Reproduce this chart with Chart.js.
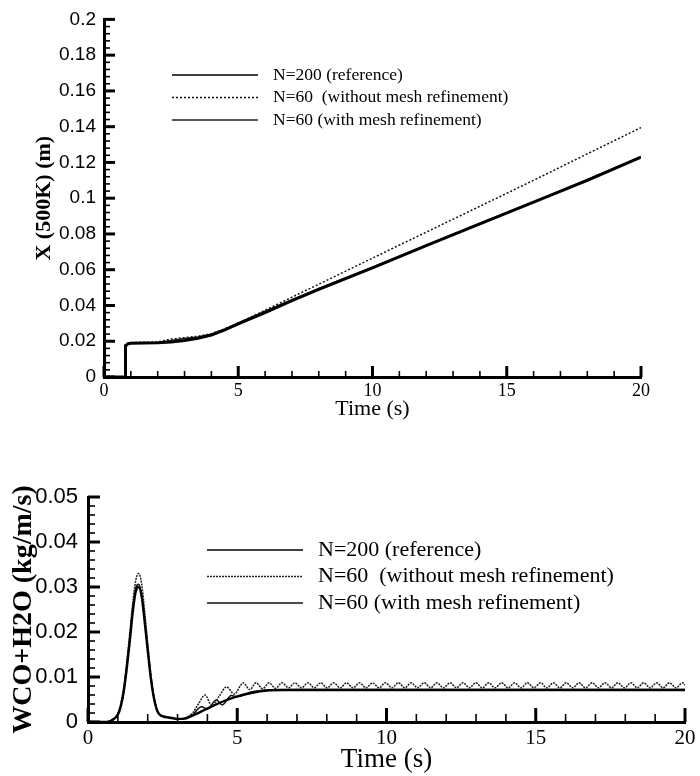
<!DOCTYPE html>
<html>
<head>
<meta charset="utf-8">
<script src="https://cdn.jsdelivr.net/npm/chart.js@4.4.1/dist/chart.umd.min.js"></script>
<style>
  html, body { margin: 0; padding: 0; background: #fff; }
  #page { position: relative; width: 700px; height: 776px; background: #fff; }
  #posChart { position: absolute; left: 0; top: 0; }
  #rateChart { position: absolute; left: 0; top: 466px; }
</style>
</head>
<body>
<div id="page">
  <canvas id="posChart" width="700" height="430"></canvas>
  <canvas id="rateChart" width="700" height="310"></canvas>
</div>
<script>
// ── Data: X(500K) front position vs time ────────────────────────────────────
const seriesLabels = ['N=200 (reference)', 'N=60  (without mesh refinement)', 'N=60 (with mesh refinement)'];

const posTime   = [0, 0.8, 0.8, 0.9, 1.0, 1.5, 2.0, 2.5, 3.0, 3.5, 4.0, 4.5, 5.0, 6.0, 7.0, 8.0, 9.0, 10.0, 12.0, 14.0, 16.0, 18.0, 20.0];
const posRef    = [0, 0, 0.0175, 0.0186, 0.0189, 0.019, 0.0191, 0.0196, 0.0204, 0.0217, 0.0235, 0.0264, 0.0297, 0.036, 0.0427, 0.049, 0.055, 0.061, 0.0735, 0.0857, 0.0978, 0.110, 0.123];
const posCoarse = [0, 0, 0.0182, 0.019, 0.0193, 0.0194, 0.0196, 0.0212, 0.022, 0.0228, 0.0242, 0.027, 0.0302, 0.0373, 0.0446, 0.0519, 0.0592, 0.0665, 0.081, 0.0955, 0.110, 0.1248, 0.1395];
const posFine   = [0, 0, 0.0178, 0.0187, 0.019, 0.019, 0.0192, 0.0205, 0.0215, 0.0224, 0.024, 0.0268, 0.0302, 0.0368, 0.0433, 0.0495, 0.0555, 0.0615, 0.0738, 0.086, 0.098, 0.1105, 0.1233];

// ── Data: WCO+H2O vs time ────────────────────────────────────────────────────
const rateRefTime = [0, 0.6, 0.8, 1.0, 1.1, 1.2, 1.3, 1.4, 1.5, 1.6, 1.7, 1.8, 1.9, 2.0, 2.1, 2.2, 2.3, 2.4, 2.6, 2.8, 3.0, 3.2, 3.5, 4.0, 4.5, 5.0, 5.5, 6.0, 6.5, 7.0, 10.0, 15.0, 20.0];
const rateRef     = [0, 0, 0.0004, 0.0016, 0.0035, 0.0069, 0.0120, 0.0180, 0.0245, 0.0290, 0.0300, 0.0278, 0.0222, 0.0160, 0.0100, 0.0056, 0.0028, 0.0016, 0.0011, 0.0009, 0.0007, 0.0007, 0.0014, 0.0030, 0.0045, 0.0057, 0.0065, 0.0070, 0.0071, 0.0071, 0.0071, 0.0071, 0.0071];

const rateFineTime = [0, 0.6, 0.8, 1.0, 1.1, 1.2, 1.3, 1.4, 1.5, 1.6, 1.7, 1.8, 1.9, 2.0, 2.1, 2.2, 2.3, 2.4, 2.6, 2.8, 3.0, 3.2, 3.5, 3.8, 4.0, 4.3, 4.5, 4.8, 5.0, 5.5, 6.0, 7.0, 10.0, 15.0, 20.0];
const rateFine     = [0, 0, 0.0004, 0.0017, 0.0037, 0.0072, 0.0125, 0.0186, 0.0252, 0.0298, 0.0306, 0.0283, 0.0226, 0.0162, 0.0101, 0.0057, 0.0029, 0.0017, 0.0012, 0.0009, 0.0007, 0.0008, 0.0016, 0.0034, 0.0029, 0.0049, 0.0038, 0.0059, 0.0056, 0.0067, 0.0071, 0.0072, 0.0072, 0.0072, 0.0072];

const rateCoarseTime = [0, 0.6, 0.8, 1.0, 1.1, 1.2, 1.3, 1.4, 1.5, 1.6, 1.7, 1.8, 1.9, 2.0, 2.1, 2.2, 2.3, 2.4, 2.6, 2.8, 3.0, 3.2, 3.5, 3.7, 3.92, 4.15, 4.4, 4.64, 4.9,
  5.20, 5.42, 5.63, 5.85, 6.07, 6.28, 6.50, 6.72, 6.93, 7.15, 7.37, 7.58, 7.80, 8.01, 8.23, 8.45, 8.66, 8.88, 9.10, 9.31,
  9.53, 9.75, 9.96, 10.18, 10.40, 10.61, 10.83, 11.04, 11.26, 11.48, 11.69, 11.91, 12.13, 12.34, 12.56, 12.78, 12.99, 13.21,
  13.42, 13.64, 13.86, 14.07, 14.29, 14.51, 14.72, 14.94, 15.16, 15.37, 15.59, 15.81, 16.02, 16.24, 16.45, 16.67, 16.89,
  17.10, 17.32, 17.54, 17.75, 17.97, 18.19, 18.40, 18.62, 18.83, 19.05, 19.27, 19.48, 19.70, 19.92, 20.00];
const rateCoarse = [0, 0, 0.0005, 0.0020, 0.0042, 0.0078, 0.0135, 0.0198, 0.0265, 0.0315, 0.0330, 0.0306, 0.0245, 0.0175, 0.0110, 0.0060, 0.0030, 0.0017, 0.0012, 0.0010, 0.0007, 0.0008, 0.0020, 0.0040, 0.0060, 0.0036, 0.0058, 0.0078, 0.0062,
  0.0087, 0.0072, 0.0087, 0.0074, 0.0087, 0.0075, 0.0087, 0.0076, 0.0087, 0.0076, 0.0087, 0.0076, 0.0087, 0.0076, 0.0087, 0.0076, 0.0087, 0.0076, 0.0087, 0.0076,
  0.0087, 0.0076, 0.0087, 0.0076, 0.0087, 0.0076, 0.0087, 0.0076, 0.0087, 0.0076, 0.0087, 0.0076, 0.0087, 0.0076, 0.0087, 0.0076, 0.0087, 0.0076,
  0.0087, 0.0076, 0.0087, 0.0076, 0.0087, 0.0076, 0.0087, 0.0076, 0.0087, 0.0076, 0.0087, 0.0076, 0.0087, 0.0076, 0.0087, 0.0076, 0.0087,
  0.0076, 0.0087, 0.0076, 0.0087, 0.0076, 0.0087, 0.0076, 0.0087, 0.0076, 0.0087, 0.0076, 0.0087, 0.0076, 0.0087, 0.0082];

// ── Helpers ──────────────────────────────────────────────────────────────────
const pts = (xs, ys) => xs.map((x, i) => ({ x: x, y: ys[i] }));
const onStep = (v, step) => Math.abs(v / step - Math.round(v / step)) < 1e-6;
const fmt = v => String(Number(v.toFixed(3)));
const SERIF = '"Liberation Serif", "Times New Roman", serif';
const SANS = '"Liberation Sans", Arial, sans-serif';

// inward tick marks, long on major steps, short on the rest
const inwardTicks = {
    id: 'inwardTicks',
    afterDraw(chart, args, opts) {
        const ctx = chart.ctx;
        const area = chart.chartArea;
        ctx.save();
        ctx.strokeStyle = '#000';
        ['x', 'y'].forEach(id => {
            const scale = chart.scales[id];
            const o = opts[id];
            scale.ticks.forEach(t => {
                const major = onStep(t.value, o.major);
                const len = major ? o.long : o.short;
                const p = scale.getPixelForValue(t.value);
                ctx.lineWidth = major ? 3 : 1.6;
                ctx.beginPath();
                if (id === 'x') { ctx.moveTo(p, area.bottom); ctx.lineTo(p, area.bottom - len); }
                else { ctx.moveTo(area.left, p); ctx.lineTo(area.left + len, p); }
                ctx.stroke();
            });
        });
        ctx.restore();
    }
};

// legend: sample line + label, placed inside the plot
const lineKey = {
    id: 'lineKey',
    afterDatasetsDraw(chart, args, o) {
        const ctx = chart.ctx;
        ctx.save();
        ctx.font = o.font;
        ctx.fillStyle = '#000';
        ctx.textBaseline = 'middle';
        chart.data.datasets.forEach((ds, i) => {
            const y = o.y + i * o.rowH;
            ctx.strokeStyle = ds.borderColor;
            ctx.lineWidth = o.lineWidth;
            ctx.setLineDash(ds.borderDash || []);
            ctx.beginPath();
            ctx.moveTo(o.x, y);
            ctx.lineTo(o.x + o.len, y);
            ctx.stroke();
            ctx.setLineDash([]);
            ctx.fillText(ds.label, o.x + o.len + o.gap, y);
        });
        ctx.restore();
    }
};

function axes(cfg) {
    return {
        x: {
            type: 'linear', min: 0, max: 20,
            afterFit: s => { s.height = cfg.xHeight; },
            grid: { display: false, drawTicks: false },
            border: { display: true, color: '#000', width: 3 },
            ticks: {
                stepSize: 1, autoSkip: false, maxRotation: 0, padding: cfg.xPad, color: '#000',
                font: { family: SERIF, size: cfg.xTickSize },
                callback: v => onStep(v, 5) ? String(Math.round(v)) : ''
            },
            title: {
                display: true, text: 'Time (s)', color: '#000',
                font: { family: SERIF, size: cfg.xTitleSize },
                padding: { top: 0, bottom: cfg.xTitlePad }
            }
        },
        y: {
            type: 'linear', min: 0, max: cfg.yMax,
            afterFit: s => { s.width = cfg.yWidth; },
            grid: { display: false, drawTicks: false },
            border: { display: true, color: '#000', width: 3 },
            ticks: {
                stepSize: cfg.yMinor, autoSkip: false, padding: cfg.yPad, color: '#000',
                font: { family: SANS, size: cfg.yTickSize },
                callback: v => onStep(v, cfg.yMajor) ? fmt(v) : ''
            },
            title: {
                display: true, text: cfg.yTitle, color: '#000',
                font: { family: SERIF, size: cfg.yTitleSize, weight: 'bold' },
                padding: { top: cfg.yTitlePad, bottom: 0 }
            }
        }
    };
}

// ── Top chart ────────────────────────────────────────────────────────────────
new Chart(document.getElementById('posChart'), {
    type: 'line',
    data: {
        datasets: [
            { label: seriesLabels[0], data: pts(posTime, posRef), borderColor: '#000', borderWidth: 3 },
            { label: seriesLabels[1], data: pts(posTime, posCoarse), borderColor: '#111', borderWidth: 1.5, borderDash: [2, 2] },
            { label: seriesLabels[2], data: pts(posTime, posFine), borderColor: '#222', borderWidth: 1.4 }
        ]
    },
    options: {
        responsive: false,
        animation: false,
        layout: { padding: { left: 0, right: 59, top: 13, bottom: 0 } },
        elements: { point: { radius: 0 }, line: { tension: 0 } },
        plugins: {
            legend: { display: false },
            tooltip: { enabled: false },
            inwardTicks: { x: { major: 5, long: 11, short: 6 }, y: { major: 0.02, long: 11, short: 6 } },
            lineKey: { x: 172, y: 75, rowH: 22.5, len: 86, gap: 15, lineWidth: 1.5, font: '17.5px ' + SERIF }
        },
        scales: axes({
            xHeight: 53, xPad: 3, xTickSize: 18, xTitleSize: 22, xTitlePad: 8,
            yMax: 0.2, yMinor: 0.004, yMajor: 0.02, yWidth: 104, yPad: 8, yTickSize: 19,
            yTitle: 'X (500K) (m)', yTitleSize: 22, yTitlePad: 31
        })
    },
    plugins: [inwardTicks, lineKey]
});

// ── Bottom chart ─────────────────────────────────────────────────────────────
new Chart(document.getElementById('rateChart'), {
    type: 'line',
    data: {
        datasets: [
            { label: seriesLabels[0], data: pts(rateRefTime, rateRef), borderColor: '#000', borderWidth: 2.4 },
            { label: seriesLabels[1], data: pts(rateCoarseTime, rateCoarse), borderColor: '#222', borderWidth: 1.5, borderDash: [2, 1] },
            { label: seriesLabels[2], data: pts(rateFineTime, rateFine), borderColor: '#111', borderWidth: 1.5 }
        ]
    },
    options: {
        responsive: false,
        animation: false,
        layout: { padding: { left: 0, right: 15, top: 31, bottom: 0 } },
        elements: { point: { radius: 0 }, line: { cubicInterpolationMode: 'monotone' } },
        plugins: {
            legend: { display: false },
            tooltip: { enabled: false },
            inwardTicks: { x: { major: 5, long: 14, short: 8 }, y: { major: 0.01, long: 12, short: 7 } },
            lineKey: { x: 207, y: 84, rowH: 26.5, len: 96, gap: 15, lineWidth: 1.5, font: '22px ' + SERIF }
        },
        scales: axes({
            xHeight: 54, xPad: 4, xTickSize: 21, xTitleSize: 27, xTitlePad: 0,
            yMax: 0.05, yMinor: 0.002, yMajor: 0.01, yWidth: 88, yPad: 10, yTickSize: 22,
            yTitle: 'WCO+H2O (kg/m/s)', yTitleSize: 28, yTitlePad: 7
        })
    },
    plugins: [inwardTicks, lineKey]
});
</script>
</body>
</html>
